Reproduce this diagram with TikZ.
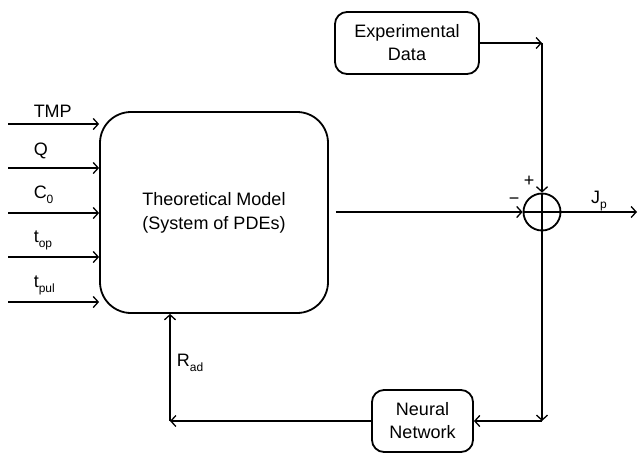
\documentclass[tikz,border=0pt]{standalone}
\usepackage{fontspec}
\setmainfont{Liberation Sans}
\usetikzlibrary{arrows.meta}
\newcommand\mysub[1]{\raisebox{-5pt}{\fontsize{12}{14}\selectfont #1}}
\begin{document}
\begin{tikzpicture}[x=1pt,y=-1pt,
  line width=1.5pt,
  arr/.style={-{Straight Barb[length=5pt,width=11pt,line width=1.3pt]}},
  bigbox/.style={draw,line width=1.8pt,rounded corners=31pt,minimum width=228pt,minimum height=201pt,align=center,font=\fontsize{18}{24}\selectfont},
  smallbox/.style={draw,line width=1.8pt,rounded corners=12pt,align=center,font=\fontsize{18}{23}\selectfont},
  lbl/.style={font=\fontsize{18}{22}\selectfont,inner sep=0pt}]
\useasboundingbox (0,0) rectangle (639,453);
\node[bigbox] (tm) at (214,212.5) {Theoretical Model\\(System of PDEs)};
\node[smallbox,minimum width=144pt,minimum height=62pt] (ed) at (407,43) {Experimental\\Data};
\node[smallbox,minimum width=101pt,minimum height=62pt] (nn) at (422.5,421) {Neural\\Network};
\node[draw,line width=1.8pt,circle,minimum size=37pt,inner sep=0pt] (sum) at (542,212) {};
\draw (sum.north) -- (sum.south);
\draw (sum.west) -- (sum.east);
% inputs
\coordinate (i1) at (8,124); \coordinate (i2) at (8,168); \coordinate (i3) at (8,213);
\coordinate (i4) at (8,257); \coordinate (i5) at (8,302);
\draw[arr] (i1) -- (i1 -| tm.west);
\draw[arr] (i2) -- (i2 -| tm.west);
\draw[arr] (i3) -- (i3 -| tm.west);
\draw[arr] (i4) -- (i4 -| tm.west);
\draw[arr] (i5) -- (i5 -| tm.west);
\node[lbl,anchor=west] (l1) at (33,111) {TMP};
\node[lbl,anchor=west] (l2) at (33,151) {Q};
\node[lbl,anchor=west] (l3) at (33,195) {C\mysub{0}};
\node[lbl,anchor=west] (l4) at (33,240) {t\mysub{op}};
\node[lbl,anchor=west] (l5) at (33,285) {t\mysub{pul}};
% main output
\coordinate (mo) at ([xshift=7pt]tm.east |- sum.west);
\draw[arr] (mo) -- (sum.west);
% experimental data
\coordinate (edc) at (sum.north |- ed.east);
\draw[arr] (ed.east) -- (edc);
\draw[arr] (edc) -- (sum.north);
\node[lbl] (plus) at (529,181) {+};
\node[lbl] (minus) at (514,201) {−};
% output
\coordinate (out) at (637,212);
\draw[arr] (sum.east) -- (out);
\node[lbl] (jp) at (599,201) {J\mysub{p}};
% feedback
\coordinate (fb) at (sum.south |- nn.east);
\draw[arr] (sum.south) -- (fb);
\draw[arr] (fb) -- (nn.east);
\coordinate (fl) at (170,421);
\draw[arr] (nn.west) -- (fl);
\draw[arr] (fl) -- (fl |- tm.south);
\node[lbl] (rad) at (190,363) {R\mysub{ad}};
\end{tikzpicture}
\end{document}
